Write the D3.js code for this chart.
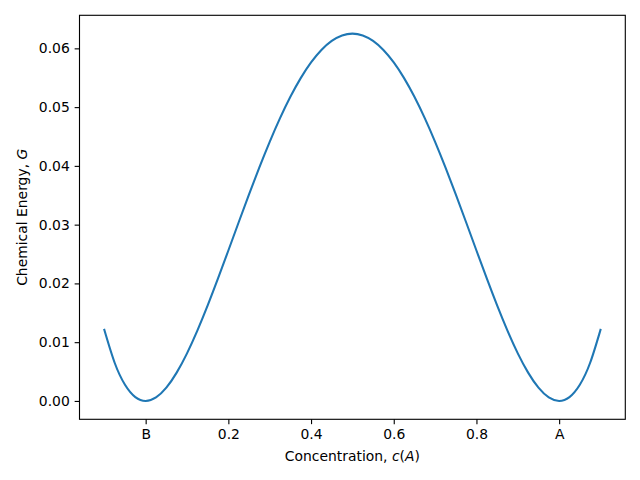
<!DOCTYPE html>
<html><head><meta charset="utf-8">
<script src="https://cdn.jsdelivr.net/npm/d3@7"></script>
<style>body{margin:0;background:#fff}svg{display:block}text{font-family:"DejaVu Sans",sans-serif}</style>
</head><body>
<svg id="c" width="640" height="480"></svg>
<script>
const concentration = [-0.1,-0.075,-0.05,-0.025,0,0.025,0.05,0.075,0.1,0.125,0.15,0.175,0.2,0.225,0.25,0.275,0.3,0.325,0.35,0.375,0.4,0.425,0.45,0.475,0.5,
  0.525,0.55,0.575,0.6,0.625,0.65,0.675,0.7,0.725,0.75,0.775,0.8,0.825,0.85,0.875,0.9,0.925,0.95,0.975,1.0,1.025,1.05,1.075,1.1];
const energy = [0.0121,0.0065,0.002756,0.000657,0,0.000594,0.002256,0.004813,0.0081,0.011963,0.016256,0.020844,0.0256,0.030407,0.035156,0.03975,0.0441,0.048125,0.051756,0.054932,0.0576,0.059719,0.061256,0.062188,0.0625,
  0.062188,0.061256,0.059719,0.0576,0.054932,0.051756,0.048125,0.0441,0.03975,0.035156,0.030407,0.0256,0.020844,0.016256,0.011963,0.0081,0.004813,0.002256,0.000594,0,0.000657,0.002756,0.0065,0.0121];
const xTicks = [0,0.2,0.4,0.6,0.8,1.0];
const xTickLabels = ["B","0.2","0.4","0.6","0.8","A"];
const yTicks = [0,0.01,0.02,0.03,0.04,0.05,0.06];
const yTickLabels = ["0.00","0.01","0.02","0.03","0.04","0.05","0.06"];

const L=79.5,R=625.3,T=15.3,B=419.3;
const svg=d3.select("#c");
const x=d3.scaleLinear().domain([-0.16,1.16]).range([L,R]);
const y=d3.scaleLinear().domain([-0.003125,0.065625]).range([B,T]);
const fs=13.9;

const data=concentration.map((c,i)=>({c,g:energy[i]}));
svg.append("path").datum(data)
  .attr("fill","none").attr("stroke","#1f77b4").attr("stroke-width",2.08)
  .attr("stroke-linecap","square")
  .attr("d",d3.line().x(d=>x(d.c)).y(d=>y(d.g)).curve(d3.curveNatural));

const xa=svg.append("g").attr("transform",`translate(0,${B})`)
  .call(d3.axisBottom(x).tickValues(xTicks).tickFormat((d,i)=>xTickLabels[i]).tickSizeOuter(0).tickSize(4.86).tickPadding(4.86));
const ya=svg.append("g").attr("transform",`translate(${L},0)`)
  .call(d3.axisLeft(y).tickValues(yTicks).tickFormat((d,i)=>yTickLabels[i]).tickSizeOuter(0).tickSize(4.86).tickPadding(4.86));
[xa,ya].forEach(a=>{
  a.select(".domain").remove();
  a.selectAll("line").attr("stroke","#000").attr("stroke-width",1.11);
  a.selectAll("text").attr("font-size",fs).attr("font-family","DejaVu Sans").attr("fill","#000");
});
svg.append("rect").attr("x",L).attr("y",T).attr("width",R-L).attr("height",B-T)
  .attr("fill","none").attr("stroke","#000").attr("stroke-width",1.11);

const xl=svg.append("text").attr("x",(L+R)/2).attr("y",461).attr("text-anchor","middle").attr("font-size",fs);
xl.append("tspan").text("Concentration, ");
xl.append("tspan").attr("font-style","italic").text("c");
xl.append("tspan").text("(");
xl.append("tspan").attr("font-style","italic").text("A");
xl.append("tspan").text(")");

const yl=svg.append("text").attr("transform",`translate(27,${(T+B)/2}) rotate(-90)`).attr("text-anchor","middle").attr("font-size",fs);
yl.append("tspan").text("Chemical Energy, ");
yl.append("tspan").attr("font-style","italic").text("G");
</script>
</body></html>
